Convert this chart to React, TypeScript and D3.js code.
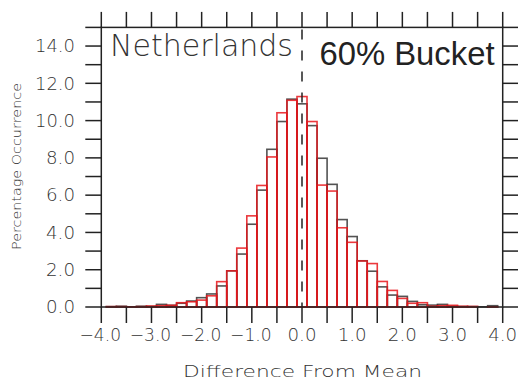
import React from "react";
import * as d3 from "d3";

// Bin centres (width 0.2) of the difference-from-mean histogram
const binCenters: number[] = [
  -3.8, -3.6, -3.4, -3.2, -3.0, -2.8, -2.6, -2.4, -2.2, -2.0,
  -1.8, -1.6, -1.4, -1.2, -1.0, -0.8, -0.6, -0.4, -0.2, 0.0,
  0.2, 0.4, 0.6, 0.8, 1.0, 1.2, 1.4, 1.6, 1.8, 2.0,
  2.2, 2.4, 2.6, 2.8, 3.0, 3.2, 3.4, 3.6, 3.8,
];

// Percentage occurrence, black histogram
const blackValues: number[] = [
  0.02, 0.04, 0.01, 0.04, 0.03, 0.14, 0.09, 0.2, 0.32, 0.5,
  0.7, 1.13, 1.94, 2.84, 4.44, 6.27, 8.46, 9.95, 11.15, 10.9,
  9.73, 7.98, 6.58, 4.69, 3.78, 2.48, 1.92, 1.08, 0.64, 0.57,
  0.3, 0.12, 0.1, 0.14, 0.04, 0.02, 0.02, 0.01, 0.07,
];

// Percentage occurrence, red histogram
const redValues: number[] = [
  0.02, 0.02, 0.01, 0.02, 0.05, 0.07, 0.09, 0.23, 0.28, 0.37,
  0.6, 1.36, 1.94, 3.16, 4.89, 6.52, 8.05, 10.42, 11.09, 11.29,
  9.95, 6.54, 6.22, 4.25, 3.47, 2.47, 2.33, 1.37, 0.89, 0.46,
  0.2, 0.23, 0.04, 0.07, 0.09, 0.04, 0.03, 0.0, 0.01,
];

const xTickLabels: string[] = ["−4.0", "−3.0", "−2.0", "−1.0", "0.0", "1.0", "2.0", "3.0", "4.0"];
const yTickLabels: string[] = ["0.0", "2.0", "4.0", "6.0", "8.0", "10.0", "12.0", "14.0"];

const binWidth = 0.2;

const W = 518;
const H = 381;
const left = 101.3;
const right = 502.7;
const top = 27.4;
const bottom = 307;

const x = d3.scaleLinear().domain([-4, 4]).range([left, right]);
const y = d3.scaleLinear().domain([0, 15]).range([bottom, top]);

const thinFont = "'DejaVu Sans', sans-serif";
const textColor = "#333";

// Widths of the wide stroked label glyphs, used to size each tick label
function labelWidth(s: string): number {
  let w = 0;
  for (const ch of s) {
    if (ch === ".") w += 7;
    else if (ch === "−") w += 12.5;
    else w += 11;
  }
  return w;
}

function Bars({ values, color, width, opacity }: { values: number[]; color: string; width: number; opacity: number }) {
  return (
    <g fill="none" stroke={color} strokeWidth={width} strokeOpacity={opacity}>
      {binCenters.map((c, i) => {
        const x0 = x(c - binWidth / 2);
        const x1 = x(c + binWidth / 2);
        const y0 = y(values[i]);
        return <rect key={i} x={x0} y={y0} width={x1 - x0} height={bottom - y0} />;
      })}
    </g>
  );
}

export default function App() {
  const xMinor = d3.range(-4, 4.0001, 0.5);
  const yMinor = d3.range(0, 15.0001, 1);
  const xMajor = d3.range(-4, 4.0001, 1);
  const yMajor = d3.range(0, 14.0001, 2);
  const tickLen = 15.5;

  return (
    <svg
      width={W}
      height={H}
      viewBox={`0 0 ${W} ${H}`}
      style={{ position: "absolute", left: 0, top: 0, background: "#fff" }}
    >
      {/* histograms */}
      <Bars values={blackValues} color="#1a1a1a" width={1.6} opacity={0.75} />
      <Bars values={redValues} color="#e8161b" width={1.6} opacity={0.85} />

      {/* zero reference line */}
      <line
        x1={x(0)}
        x2={x(0)}
        y1={top}
        y2={bottom}
        stroke="#222"
        strokeWidth={1.5}
        strokeDasharray="10 11"
        strokeDashoffset={-2}
      />

      {/* frame */}
      <rect
        x={left}
        y={top}
        width={right - left}
        height={bottom - top}
        fill="none"
        stroke="#222"
        strokeWidth={1.5}
      />

      {/* ticks on all four sides, pointing outward */}
      <g stroke="#222" strokeWidth={1.5}>
        {xMinor.map((v, i) => (
          <g key={i}>
            <line x1={x(v)} x2={x(v)} y1={bottom} y2={bottom + tickLen + 0.5} />
            <line x1={x(v)} x2={x(v)} y1={top} y2={top - tickLen} />
          </g>
        ))}
        {yMinor.map((v, i) => (
          <g key={i}>
            <line x1={left} x2={left - tickLen - 0.5} y1={y(v)} y2={y(v)} />
            <line x1={right} x2={right + tickLen} y1={y(v)} y2={y(v)} />
          </g>
        ))}
      </g>

      {/* x tick labels */}
      <g fontFamily={thinFont} fontWeight={200} fontSize={17} fill={textColor}>
        {xMajor.map((v, i) => {
          const w = labelWidth(xTickLabels[i]);
          return (
            <text
              key={i}
              x={x(v) - w / 2 - (v < 0 ? 1 : 0)}
              y={340.5}
              textLength={w}
              lengthAdjust="spacingAndGlyphs"
            >
              {xTickLabels[i]}
            </text>
          );
        })}
      </g>

      {/* y tick labels */}
      <g fontFamily={thinFont} fontWeight={200} fontSize={17} fill={textColor}>
        {yMajor.map((v, i) => {
          const w = labelWidth(yTickLabels[i]);
          return (
            <text
              key={i}
              x={75 - w}
              y={y(v) + 6.3}
              textLength={w}
              lengthAdjust="spacingAndGlyphs"
            >
              {yTickLabels[i]}
            </text>
          );
        })}
      </g>

      {/* axis titles */}
      <text
        x={183}
        y={376.5}
        fontFamily={thinFont}
        fontWeight={200}
        fontSize={16.5}
        fill={textColor}
        textLength={239}
        lengthAdjust="spacingAndGlyphs"
      >
        Difference From Mean
      </text>
      <text
        transform={`translate(20.5, 250) rotate(-90)`}
        x={0}
        y={0}
        fontFamily={thinFont}
        fontWeight={200}
        fontSize={12}
        fill={textColor}
        textLength={167}
        lengthAdjust="spacingAndGlyphs"
      >
        Percentage Occurrence
      </text>

      {/* panel labels */}
      <text
        x={110}
        y={55.5}
        fontFamily={thinFont}
        fontWeight={200}
        fontSize={30}
        fill={textColor}
        textLength={183}
        lengthAdjust="spacingAndGlyphs"
      >
        Netherlands
      </text>
      <text
        x={319.5}
        y={65}
        fontFamily="'Liberation Sans', Arial, sans-serif"
        fontSize={33}
        fill="#222"
        textLength={175}
        lengthAdjust="spacingAndGlyphs"
      >
        60% Bucket
      </text>
    </svg>
  );
}
